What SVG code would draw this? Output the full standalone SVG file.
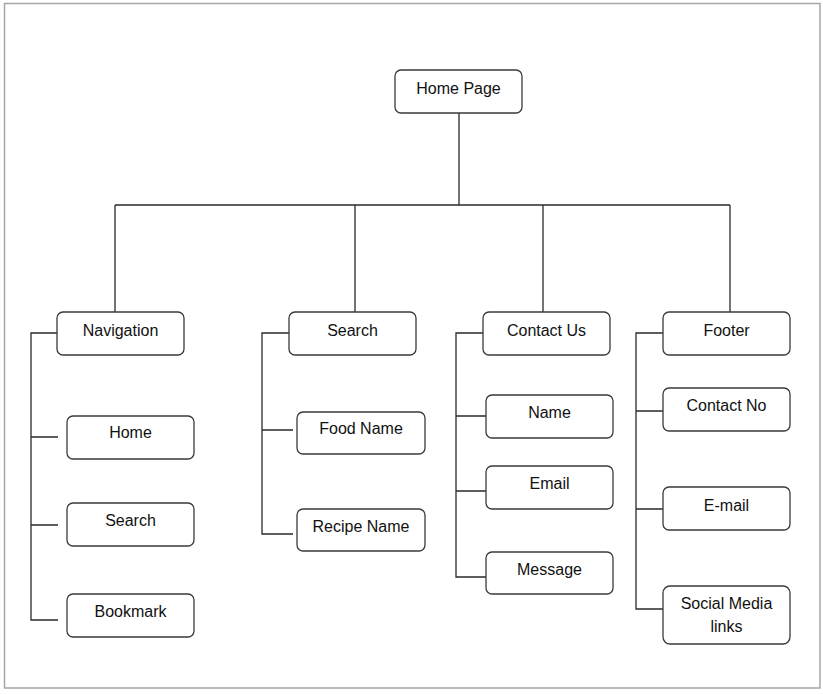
<svg xmlns="http://www.w3.org/2000/svg" width="823" height="695" viewBox="0 0 823 695">
<style>
.frame{fill:#fff;stroke:#a6a6a6;stroke-width:1.5}
.box{fill:#fff;stroke:#3a3a3a;stroke-width:1.3}
.ln{fill:none;stroke:#2a2a2a;stroke-width:1.3}
text{font-family:"Liberation Sans",Arial,sans-serif;font-size:16px;fill:#111;text-anchor:middle}
</style>
<rect width="823" height="695" fill="#fff"/>
<rect class="frame" x="4.5" y="3.5" width="815.5" height="684.5"/>
<g id="connectors">
<path class="ln" d="M459 113V205M115 205H730M115 205V312M355 205V312M543 205V312M730 205V312"/>
<path class="ln" d="M57 333H31V620H58M31 437H58M31 525H58"/>
<path class="ln" d="M289 333H262V534H293M262 430H293"/>
<path class="ln" d="M483 333H456V577H486M456 416H486M456 491H486"/>
<path class="ln" d="M663 333H636V609H663M636 411H663M636 509H663"/>
</g>
<g id="home-page"><rect class="box" x="395" y="70" width="127" height="43" rx="6"/><text x="458.5" y="94">Home Page</text></g>
<g id="navigation"><rect class="box" x="57" y="312" width="127" height="43" rx="6"/><text x="120.5" y="335.5">Navigation</text></g>
<g id="nav-home"><rect class="box" x="67" y="416" width="127" height="43" rx="6"/><text x="130.5" y="438">Home</text></g>
<g id="nav-search"><rect class="box" x="67" y="503" width="127" height="43" rx="6"/><text x="130.5" y="525.5">Search</text></g>
<g id="nav-bookmark"><rect class="box" x="67" y="594" width="127" height="43" rx="6"/><text x="130.5" y="616.5">Bookmark</text></g>
<g id="search"><rect class="box" x="289" y="312" width="127" height="43" rx="6"/><text x="352.5" y="335.5">Search</text></g>
<g id="food-name"><rect class="box" x="297" y="412" width="128" height="42" rx="6"/><text x="361" y="433.5">Food Name</text></g>
<g id="recipe-name"><rect class="box" x="297" y="509" width="128" height="42" rx="6"/><text x="361" y="531.5">Recipe Name</text></g>
<g id="contact-us"><rect class="box" x="483" y="312" width="127" height="43" rx="6"/><text x="546.5" y="335.5">Contact Us</text></g>
<g id="name"><rect class="box" x="486" y="395" width="127" height="43" rx="6"/><text x="549.5" y="417.5">Name</text></g>
<g id="email"><rect class="box" x="486" y="466" width="127" height="43" rx="6"/><text x="549.5" y="488.5">Email</text></g>
<g id="message"><rect class="box" x="486" y="552" width="127" height="42" rx="6"/><text x="549.5" y="575">Message</text></g>
<g id="footer"><rect class="box" x="663" y="312" width="127" height="43" rx="6"/><text x="726.5" y="335.5">Footer</text></g>
<g id="contact-no"><rect class="box" x="663" y="388" width="127" height="43" rx="6"/><text x="726.5" y="411">Contact No</text></g>
<g id="footer-email"><rect class="box" x="663" y="487" width="127" height="43" rx="6"/><text x="726.5" y="510.5">E-mail</text></g>
<g id="social-media"><rect class="box" x="663" y="586" width="127" height="58" rx="7"/><text x="726.5" y="609">Social Media</text><text x="726.5" y="631.5">links</text></g>
</svg>
